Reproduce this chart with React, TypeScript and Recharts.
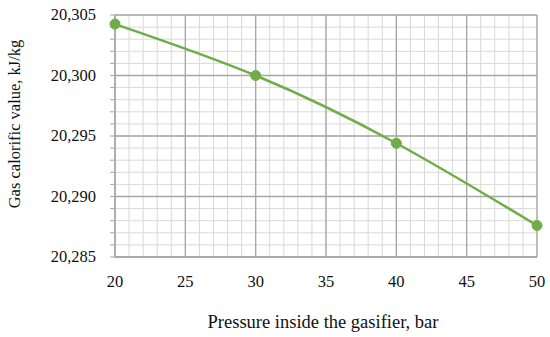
import { LineChart, Line, XAxis, YAxis, CartesianGrid, ReferenceLine } from "recharts";

const pressure = [20, 30, 40, 50];
const calorific = [20304.25, 20300.0, 20294.4, 20287.6];

const xTicks = Array.from({ length: 31 }, (_, i) => 20 + i);
const yTicks = Array.from({ length: 21 }, (_, i) => 20285 + i);
const xMajor = [20, 25, 30, 35, 40, 45, 50];
const yMajor = [20285, 20290, 20295, 20300, 20305];

const data = pressure.map((p, i) => ({ p, v: calorific[i] }));

const GREEN = "#70ad47";
const MINOR = "#d9d9d9";
const MAJOR = "#a6a6a6";
const FONT = "'Liberation Serif', serif";
const FS = 16.5;

// eslint-disable-next-line @typescript-eslint/no-explicit-any
const XTick = ({ x, y, payload }: any) =>
  payload.value % 5 === 0 ? (
    <text x={x} y={y + 22} textAnchor="middle" fill="#111" fontSize={FS} fontFamily={FONT}>
      {payload.value}
    </text>
  ) : null;

// eslint-disable-next-line @typescript-eslint/no-explicit-any
const YTick = ({ x, y, payload }: any) =>
  payload.value % 5 === 0 ? (
    <text x={x - 12} y={y + 5} textAnchor="end" fill="#111" fontSize={FS} fontFamily={FONT}>
      {payload.value.toLocaleString("en-US")}
    </text>
  ) : null;

const YTitle = () => (
  <text
    x={0}
    y={0}
    transform="translate(20,124) rotate(-90)"
    textAnchor="middle"
    fill="#111"
    fontSize={FS}
    fontFamily={FONT}
  >
    Gas calorific value, kJ/kg
  </text>
);

const XTitle = () => (
  <text x={323} y={328} textAnchor="middle" fill="#111" fontSize={18.5} fontFamily={FONT}>
    Pressure inside the gasifier, bar
  </text>
);

export default function App() {
  return (
    <div style={{ position: "absolute", left: 0, top: 0, background: "#fff" }}>
      <LineChart width={550} height={337} data={data} margin={{ top: 15, right: 13, left: 0, bottom: 0 }}>
        <CartesianGrid stroke={MINOR} strokeWidth={1} />
        {xMajor.map((x) => (
          <ReferenceLine key={"x" + x} x={x} stroke={MAJOR} strokeWidth={1.3} />
        ))}
        {yMajor.map((y) => (
          <ReferenceLine key={"y" + y} y={y} stroke={MAJOR} strokeWidth={1.3} />
        ))}
        <XAxis
          dataKey="p"
          type="number"
          domain={[20, 50]}
          ticks={xTicks}
          interval={0}
          height={80}
          tickLine={false}
          axisLine={{ stroke: MAJOR, strokeWidth: 1.3 }}
          tick={<XTick />}
          label={{ content: <XTitle /> }}
        />
        <YAxis
          type="number"
          domain={[20285, 20305]}
          ticks={yTicks}
          interval={0}
          width={115}
          tickSize={5}
          tickLine={{ stroke: MAJOR }}
          axisLine={{ stroke: MAJOR, strokeWidth: 1.3 }}
          tick={<YTick />}
          label={{ content: <YTitle /> }}
        />
        <Line
          type="natural"
          dataKey="v"
          stroke={GREEN}
          strokeWidth={2.5}
          dot={{ r: 5, fill: GREEN, stroke: GREEN, strokeWidth: 1 }}
          isAnimationActive={false}
        />
      </LineChart>
    </div>
  );
}
